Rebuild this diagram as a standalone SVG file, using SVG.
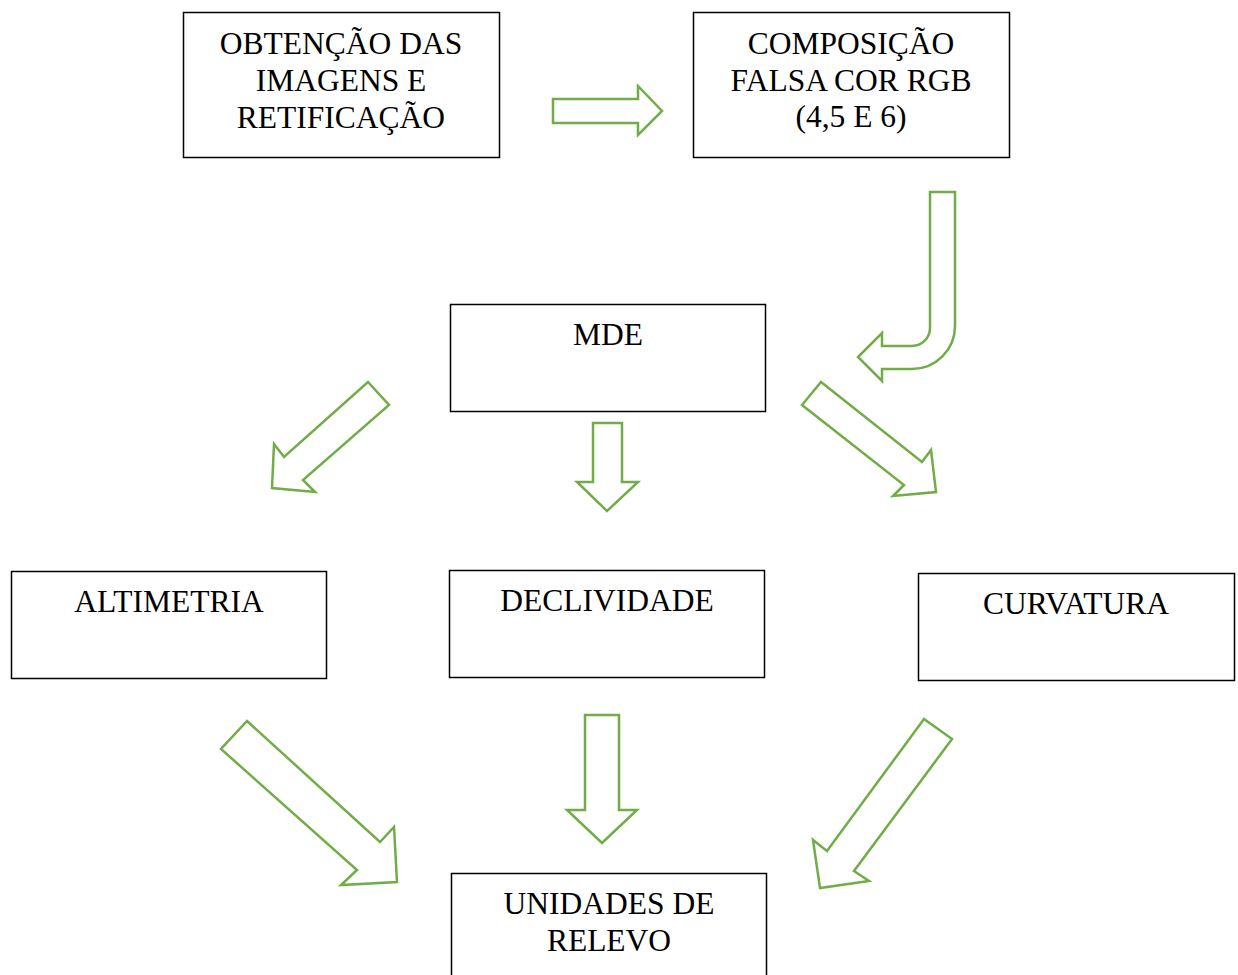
<svg xmlns="http://www.w3.org/2000/svg" width="1238" height="975" viewBox="0 0 1238 975">
<style>
.box{fill:#fff;stroke:#000;stroke-width:1.5}
.t{font-family:"Liberation Serif","Times New Roman",serif;font-size:31.5px;fill:#000;text-anchor:middle}
.arr{fill:#fff;stroke:#70AD47;stroke-width:2.5;stroke-linejoin:miter}
</style>
<rect width="1238" height="975" fill="#fff"/>
<g id="connectors">
<polygon class="arr" points="553,99 638,99 638,86 662,111 638,135 638,123 553,123"/>
<path class="arr" d="M930,192 H955 V326 A43,43 0 0 1 912,369 H882 V381 L858,357 L882,333 V346 H912 A18,18 0 0 0 930,328 Z"/>
<polygon class="arr" points="368,382 389,405 303,480 315,492 272,488 274,444 284,457"/>
<polygon class="arr" points="593,423 622,423 622,482 638,482 607,511 577,482 593,482"/>
<polygon class="arr" points="821,382 922,462 931,450 936,492 893,496 904,485 802,405"/>
<polygon class="arr" points="247,721 380,842 394,827 397,882 341,885 357,870 221,749"/>
<polygon class="arr" points="585,715 619,715 619,810 637,810 602,843 567,810 585,810"/>
<polygon class="arr" points="924,719 952,739 854,871 869,881 820,888 813,840 827,851"/>
</g>
<g id="n1"><rect class="box" x="183.5" y="12.5" width="316" height="145"/>
<text class="t" x="341" y="54">OBTENÇÃO DAS</text><text class="t" x="341" y="91">IMAGENS E</text><text class="t" x="341" y="128">RETIFICAÇÃO</text></g>
<g id="n2"><rect class="box" x="693.5" y="12.5" width="316" height="145"/>
<text class="t" x="851" y="54">COMPOSIÇÃO</text><text class="t" x="851" y="91">FALSA COR RGB</text><text class="t" x="851" y="127">(4,5 E 6)</text></g>
<g id="n3"><rect class="box" x="450.5" y="304.5" width="315" height="107"/>
<text class="t" x="608" y="345">MDE</text></g>
<g id="n4"><rect class="box" x="11.5" y="571.5" width="315" height="107"/>
<text class="t" x="169" y="612">ALTIMETRIA</text></g>
<g id="n5"><rect class="box" x="449.5" y="570.5" width="315" height="107"/>
<text class="t" x="607" y="611">DECLIVIDADE</text></g>
<g id="n6"><rect class="box" x="918.5" y="573.5" width="316" height="107"/>
<text class="t" x="1076" y="614">CURVATURA</text></g>
<g id="n7"><rect class="box" x="451.5" y="873.5" width="315" height="110"/>
<text class="t" x="609" y="914">UNIDADES DE</text><text class="t" x="609" y="951">RELEVO</text></g>
</svg>
